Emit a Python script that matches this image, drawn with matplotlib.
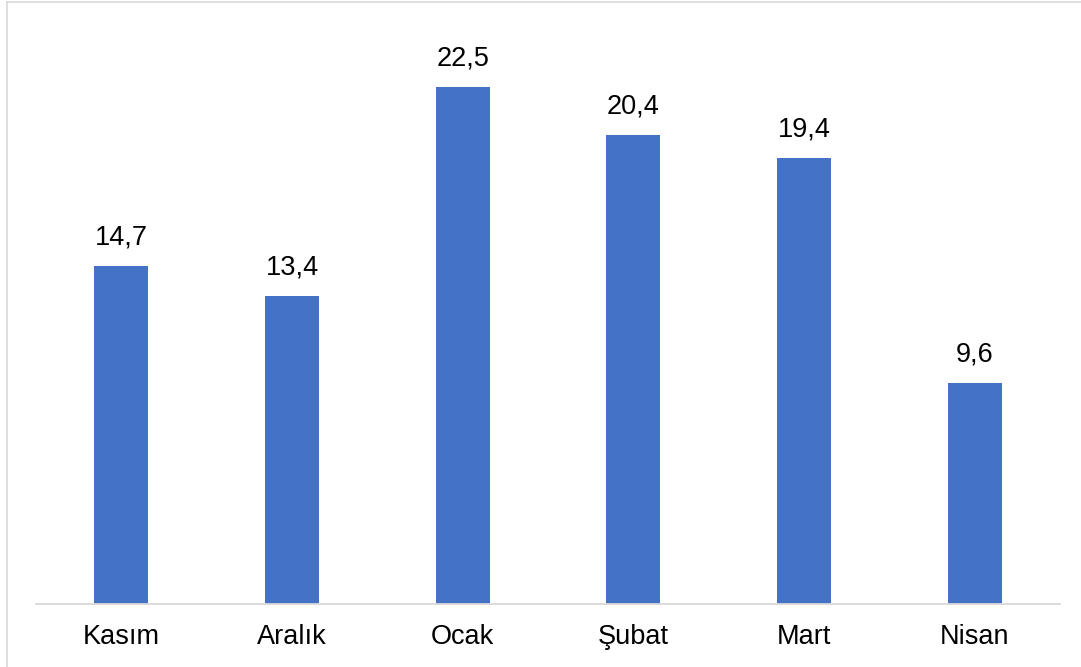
import matplotlib.pyplot as plt
from matplotlib.lines import Line2D

months = ["Kasım", "Aralık", "Ocak", "Şubat", "Mart", "Nisan"]
values = [14.7, 13.4, 22.5, 20.4, 19.4, 9.6]
value_labels = ["14,7", "13,4", "22,5", "20,4", "19,4", "9,6"]

plt.rcParams['font.family'] = ['Liberation Sans', 'DejaVu Sans']

W, H = 1081, 667
fig = plt.figure(figsize=(W / 100, H / 100), dpi=100)
ax = fig.add_axes([36 / W, 1 - 604 / H, (1060 - 36) / W, (604 - 29) / H])

x = range(len(months))
bars = ax.bar(x, values, width=0.315, color="#4472C4")

for b, lab in zip(bars, value_labels):
    ax.annotate(lab, (b.get_x() + b.get_width() / 2, b.get_height()),
                xytext=(0, 11), textcoords="offset points",
                ha="center", va="bottom", fontsize=19.5, color="black")

ax.set_xlim(-0.5, len(months) - 0.5)
ax.set_ylim(0, 25)
ax.set_xticks(list(x))
ax.set_xticklabels(months, fontsize=19.5)
ax.tick_params(axis="x", length=0, pad=14.5)
ax.set_yticks([])
for s in ["top", "right", "left"]:
    ax.spines[s].set_visible(False)
ax.spines["bottom"].set_color("#D9D9D9")
ax.spines["bottom"].set_linewidth(1.3)

# outer chart border (light gray), only top and left show in the crop
fig.add_artist(Line2D([6.5 / W, 6.5 / W], [0, 1 - 1.5 / H], transform=fig.transFigure,
                      color="#D9D9D9", lw=1.2))
fig.add_artist(Line2D([6.5 / W, 1], [1 - 1.5 / H, 1 - 1.5 / H], transform=fig.transFigure,
                      color="#D9D9D9", lw=1.2))

fig.savefig("out.png", dpi=100)
